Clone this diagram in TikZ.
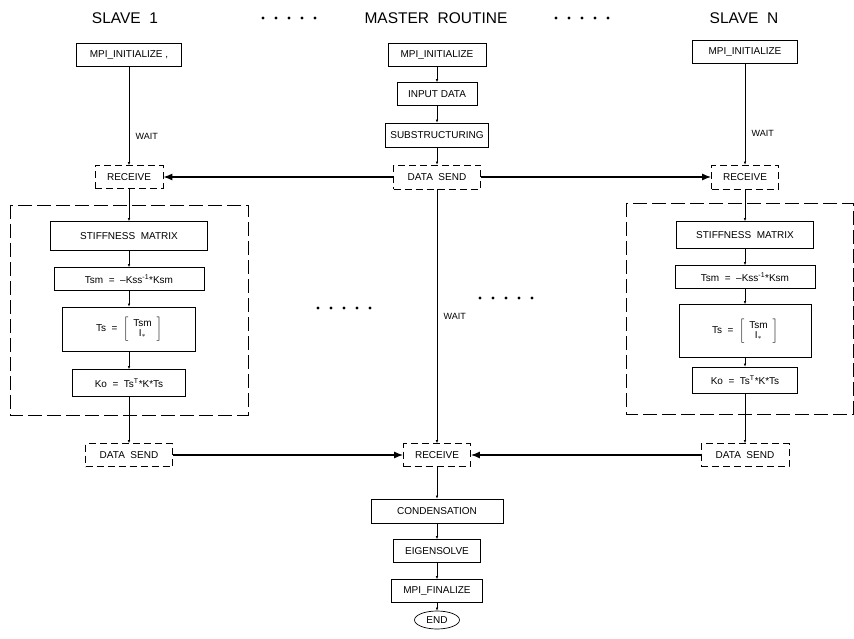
\documentclass[tikz,border=0pt]{standalone}
\usepackage{fontspec}
\setmainfont{Liberation Sans}
\usepackage{tikz}
\usetikzlibrary{arrows.meta,shapes.geometric}

\begin{document}
\begin{tikzpicture}[x=1pt, y=-1pt, every node/.style={font=\fontsize{10}{12}\selectfont}, box/.style={draw, line width=0.7pt, minimum height=23pt, inner sep=1pt}, dbox/.style={box, dash pattern=on 7pt off 4pt}, group/.style={draw, line width=0.7pt, dash pattern=on 14pt off 5pt}, title/.style={font=\fontsize{15.5}{18}\selectfont}, conn/.style={-{Latex[length=3pt,width=2.6pt]}, line width=0.7pt}, msg/.style={-{Latex[length=9pt,width=7pt]}, line width=1.3pt}, waitlbl/.style={right, xshift=3pt, font=\fontsize{9}{10}\selectfont}]
	\useasboundingbox (0,0) rectangle (854,639);
	% titles and dots
	\node[title] (t1) at (125,18) {SLAVE\ \ 1};
	\node[title] (tm) at (436,18) {MASTER\ \ ROUTINE};
	\node[title] (tn) at (744,18) {SLAVE\ \ N};
	\foreach \x/\y in {263/18, 556/18, 318/308, 480/298}
		\foreach \i in {0,...,4} \fill (\x+13*\i,\y) circle (1.7);
	% slave 1
	\draw[group] (10,205) rectangle (248,415);
	\node[box, minimum width=105pt] (s1init) at (129,55) {MPI\_INITIALIZE\ ,};
	\node[dbox, minimum width=68pt] (s1recv) at (129,177) {RECEIVE};
	\node[box, minimum width=157pt, minimum height=29pt] (s1stiff) at (129,236) {STIFFNESS\ \ MATRIX};
	\node[box, minimum width=150pt] (s1tsm) at (129,279) {Tsm\ \ =\ \ --Kss\textsuperscript{-1}*Ksm};
	\node[box, minimum width=133pt, minimum height=44pt] (s1ts) at (129,329) {Ts\ \ =\ \ $\left[\begin{array}{c}\mbox{Tsm}\\[-2pt]\mbox{I$_*$}\end{array}\right]$};
	\node[box, minimum width=113pt, minimum height=27pt] (s1ko) at (129,383) {Ko\ \ =\ \ Ts\textsuperscript{T}*K*Ts};
	\node[dbox, minimum width=87pt] (s1send) at (129,455) {DATA\ \ SEND};
	% master
	\node[box, minimum width=98pt] (minit) at (437,55) {MPI\_INITIALIZE};
	\node[box, minimum width=80pt] (minput) at (437,94) {INPUT DATA};
	\node[box, minimum width=103pt, minimum height=24pt] (msub) at (437,135) {SUBSTRUCTURING};
	\node[dbox, minimum width=87pt, minimum height=24pt] (msend) at (437,177) {DATA\ \ SEND};
	\node[dbox, minimum width=67pt] (mrecv) at (437,455) {RECEIVE};
	\node[box, minimum width=132pt, minimum height=24pt] (mcond) at (437,511) {CONDENSATION};
	\node[box, minimum width=87pt] (meig) at (437,551) {EIGENSOLVE};
	\node[box, minimum width=91pt] (mfin) at (437,591) {MPI\_FINALIZE};
	\node[draw, ellipse, line width=0.7pt, minimum width=45pt, minimum height=18pt, inner sep=0pt] (mend) at (437,620) {END};
	% slave N
	\draw[group] (626,203) rectangle (853,414);
	\node[box, minimum width=105pt] (sninit) at (745,52) {MPI\_INITIALIZE};
	\node[dbox, minimum width=67pt, minimum height=24pt] (snrecv) at (745,177) {RECEIVE};
	\node[box, minimum width=137pt, minimum height=27pt] (snstiff) at (745,235) {STIFFNESS\ \ MATRIX};
	\node[box, minimum width=140pt] (sntsm) at (745,277) {Tsm\ \ =\ \ --Kss\textsuperscript{-1}*Ksm};
	\node[box, minimum width=132pt, minimum height=53pt] (snts) at (745,331) {Ts\ \ =\ \ $\left[\begin{array}{c}\mbox{Tsm}\\[-2pt]\mbox{I$_*$}\end{array}\right]$};
	\node[box, minimum width=105pt, minimum height=26pt] (snko) at (745,380) {Ko\ \ =\ \ Ts\textsuperscript{T}*K*Ts};
	\node[dbox, minimum width=88pt] (snsend) at (745,455) {DATA\ \ SEND};
	% flow lines
	\draw[conn] (s1init) -- node[waitlbl, pos=0.71] {WAIT} (s1recv);
	\draw[conn] (s1recv) -- (s1stiff);
	\draw[conn] (s1stiff) -- (s1tsm);
	\draw[conn] (s1tsm) -- (s1ts);
	\draw[conn] (s1ts) -- (s1ko);
	\draw[conn] (s1ko) -- (s1send);
	\draw[conn] (minit) -- (minput);
	\draw[conn] (minput) -- (msub);
	\draw[conn] (msub) -- (msend);
	\draw[conn] (msend) -- node[waitlbl, pos=0.5] {WAIT} (mrecv);
	\draw[conn] (mrecv) -- (mcond);
	\draw[conn] (mcond) -- (meig);
	\draw[conn] (meig) -- (mfin);
	\draw[conn] (mfin) -- (mend);
	\draw[conn] (sninit) -- node[waitlbl, pos=0.69] {WAIT} (snrecv);
	\draw[conn] (snrecv) -- (snstiff);
	\draw[conn] (snstiff) -- (sntsm);
	\draw[conn] (sntsm) -- (snts);
	\draw[conn] (snts) -- (snko);
	\draw[conn] (snko) -- (snsend);
	% messages
	\draw[msg] (msend) -- (s1recv);
	\draw[msg] (msend) -- (snrecv);
	\draw[msg] (s1send) -- (mrecv);
	\draw[msg] (snsend) -- (mrecv);
\end{tikzpicture}
\end{document}
